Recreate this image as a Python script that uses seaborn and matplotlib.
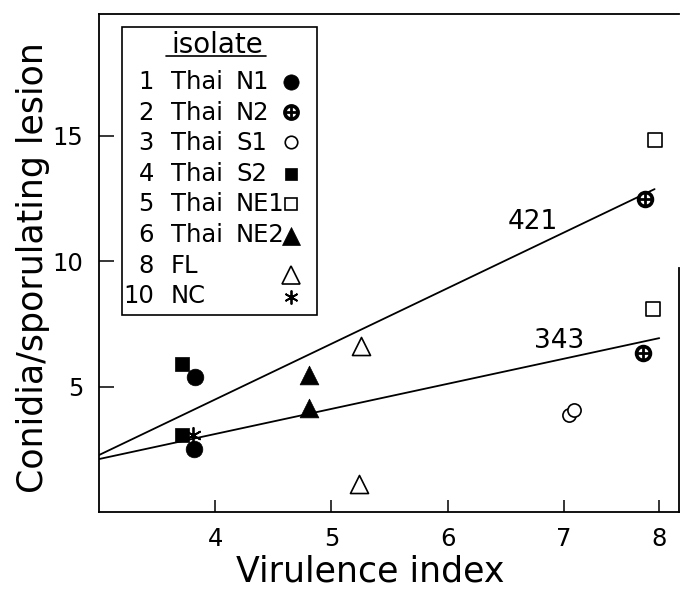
import numpy as np
import pandas as pd
import matplotlib
matplotlib.use("Agg")
import matplotlib.pyplot as plt
import seaborn as sns
from matplotlib.patches import Rectangle
from matplotlib.lines import Line2D

# ---------------- data ----------------
isolate_nums = ["1", "2", "3", "4", "5", "6", "8", "10"]
isolate_region = ["Thai", "Thai", "Thai", "Thai", "Thai", "Thai", "FL", "NC"]
isolate_codes = ["N1", "N2", "S1", "S2", "NE1", "NE2", "", ""]
isolate_names = ["Thai N1", "Thai N2", "Thai S1", "Thai S2",
                 "Thai NE1", "Thai NE2", "FL", "NC"]

point_isolate = ["Thai N1", "Thai N1", "Thai N2", "Thai N2", "Thai S1", "Thai S1",
                 "Thai S2", "Thai S2", "Thai NE1", "Thai NE1", "Thai NE2", "Thai NE2",
                 "FL", "FL", "NC"]
point_virulence = [3.83, 3.82, 7.70, 7.68, 7.04, 7.09, 3.71, 3.71,
                   7.78, 7.77, 4.81, 4.81, 5.25, 5.24, 3.81]
point_conidia = [5.38, 2.51, 12.47, 6.33, 3.86, 4.06, 5.90, 3.07,
                 14.82, 8.09, 5.46, 4.14, 6.61, 1.12, 3.07]

line_labels = ["421", "343"]
line_421_x = [3.0, 7.78]
line_421_y = [2.27, 12.87]
line_343_x = [3.0, 7.82]
line_343_y = [2.11, 6.93]

x_tick_labels = ["4", "5", "6", "7", "8"]
y_tick_values = [5, 10, 15]

df = pd.DataFrame({"isolate": point_isolate,
                   "virulence": point_virulence,
                   "conidia": point_conidia})

# ---------------- style ----------------
sns.set_style("ticks")
plt.rcParams["font.family"] = ["DejaVu Sans"]
plt.rcParams["text.color"] = "black"
plt.rcParams["axes.labelcolor"] = "black"
plt.rcParams["xtick.color"] = "black"
plt.rcParams["ytick.color"] = "black"

K = "black"
styles = {
    "Thai N1":  dict(marker="o", s=12.0**2, fc=K, ec=K, lw=0.5),
    "Thai N2":  dict(marker="o", s=10.0**2, fc="white", ec=K, lw=2.6),
    "Thai S1":  dict(marker="o", s=9.5**2, fc="white", ec=K, lw=1.2),
    "Thai S2":  dict(marker="s", s=10.5**2, fc=K, ec=K, lw=0.5),
    "Thai NE1": dict(marker="s", s=9.5**2, fc="white", ec=K, lw=1.2),
    "Thai NE2": dict(marker="^", s=13.5**2, fc=K, ec=K, lw=0.5),
    "FL":       dict(marker="^", s=13.0**2, fc="white", ec=K, lw=1.2),
    "NC":       dict(marker=(6, 2, 0), s=11.0**2, fc=K, ec=K, lw=1.3),
}

fig = plt.figure(figsize=(6.81, 5.91), dpi=100)
ax = fig.add_axes([99 / 681, (591 - 512) / 591, 580 / 681, 498 / 591])

# regression lines
sns.lineplot(x=line_421_x, y=line_421_y, color=K, lw=1.3, ax=ax)
sns.lineplot(x=line_343_x, y=line_343_y, color=K, lw=1.3, ax=ax)

# points
for name in isolate_names:
    sub = df[df["isolate"] == name]
    st = styles[name]
    sns.scatterplot(data=sub, x="virulence", y="conidia", marker=st["marker"],
                    s=st["s"], color=K, facecolor=st["fc"], edgecolor=st["ec"],
                    linewidth=st["lw"], ax=ax, zorder=3, legend=False)
    if name == "Thai N2":
        sns.scatterplot(data=sub, x="virulence", y="conidia", marker="+",
                        s=10.0**2, color=K, linewidth=2.0, ax=ax, zorder=4,
                        legend=False)

ax.text(6.73, 11.55, line_labels[0], fontsize=19, ha="center", va="center")
ax.text(6.96, 6.81, line_labels[1], fontsize=19, ha="center", va="center")

# axes
ax.set_xlim(3.0, 7.99)
ax.set_ylim(0, 19.85)
ax.set_xticks([4, 5, 6, 7, 7.82])
ax.set_xticklabels(x_tick_labels)
ax.set_yticks(y_tick_values)
ax.set_yticklabels([str(v) for v in y_tick_values])
ax.tick_params(axis="x", direction="in", length=8.5, width=1.1, pad=11, labelsize=17.5)
ax.tick_params(axis="y", direction="in", length=11, width=1.1, pad=11.5, labelsize=17.5)
for side in ["left", "bottom", "top", "right"]:
    ax.spines[side].set_visible(True)
    ax.spines[side].set_linewidth(1.3)
    ax.spines[side].set_color(K)
ax.spines["right"].set_bounds(0, 9.74)

ax.set_xlabel("Virulence index", fontsize=25)
ax.xaxis.set_label_coords(0.467, -0.085)
ax.set_ylabel("Conidia/sporulating lesion", fontsize=25)
ax.yaxis.set_label_coords(-0.085, 0.49)

# ---------------- legend box ----------------
def fx(px):
    return (px - 99) / 580

def fy(py):
    return (512 - py) / 498

ax.add_patch(Rectangle((fx(122), fy(315)), fx(317) - fx(122), fy(27) - fy(315),
                       transform=ax.transAxes, fill=False, ec=K, lw=1.2, zorder=5))
ax.text(fx(217), fy(45), "isolate", transform=ax.transAxes, fontsize=20,
        ha="center", va="center")
ax.add_line(Line2D([fx(166), fx(266)], [fy(56), fy(56)], transform=ax.transAxes,
                   color=K, lw=1.2))

row_y = [82, 112.6, 143, 174, 204, 235, 266, 296]
mark_y = [82, 112, 142, 174, 204, 236, 275, 297]
for i, name in enumerate(isolate_names):
    yy = fy(row_y[i])
    ax.text(fx(154), yy, isolate_nums[i], transform=ax.transAxes, fontsize=17.5,
            ha="right", va="center")
    ax.text(fx(171), yy, isolate_region[i], transform=ax.transAxes, fontsize=17.5,
            ha="left", va="center")
    if isolate_codes[i]:
        ax.text(fx(236), yy, isolate_codes[i], transform=ax.transAxes, fontsize=17.5,
                ha="left", va="center")
    st = styles[name]
    ms = np.sqrt(st["s"])
    if name == "Thai N2":
        ms = 9.5
    elif name == "Thai N1":
        ms = 11
    elif name in ("Thai S2", "Thai NE1", "Thai S1"):
        ms = 9
    elif name in ("Thai NE2", "FL"):
        ms = 12.5
    elif name == "NC":
        ms = 10
    ax.add_line(Line2D([fx(291)], [fy(mark_y[i])], transform=ax.transAxes,
                       marker=st["marker"], markersize=ms, markerfacecolor=st["fc"],
                       markeredgecolor=st["ec"], markeredgewidth=st["lw"],
                       linestyle="none", zorder=6))
    if name == "Thai N2":
        ax.add_line(Line2D([fx(291)], [fy(mark_y[i])], transform=ax.transAxes,
                           marker="+", markersize=9.5, markeredgecolor=K,
                           markeredgewidth=2.0, linestyle="none", zorder=7))

fig.savefig("out.png", dpi=100, facecolor="white")
